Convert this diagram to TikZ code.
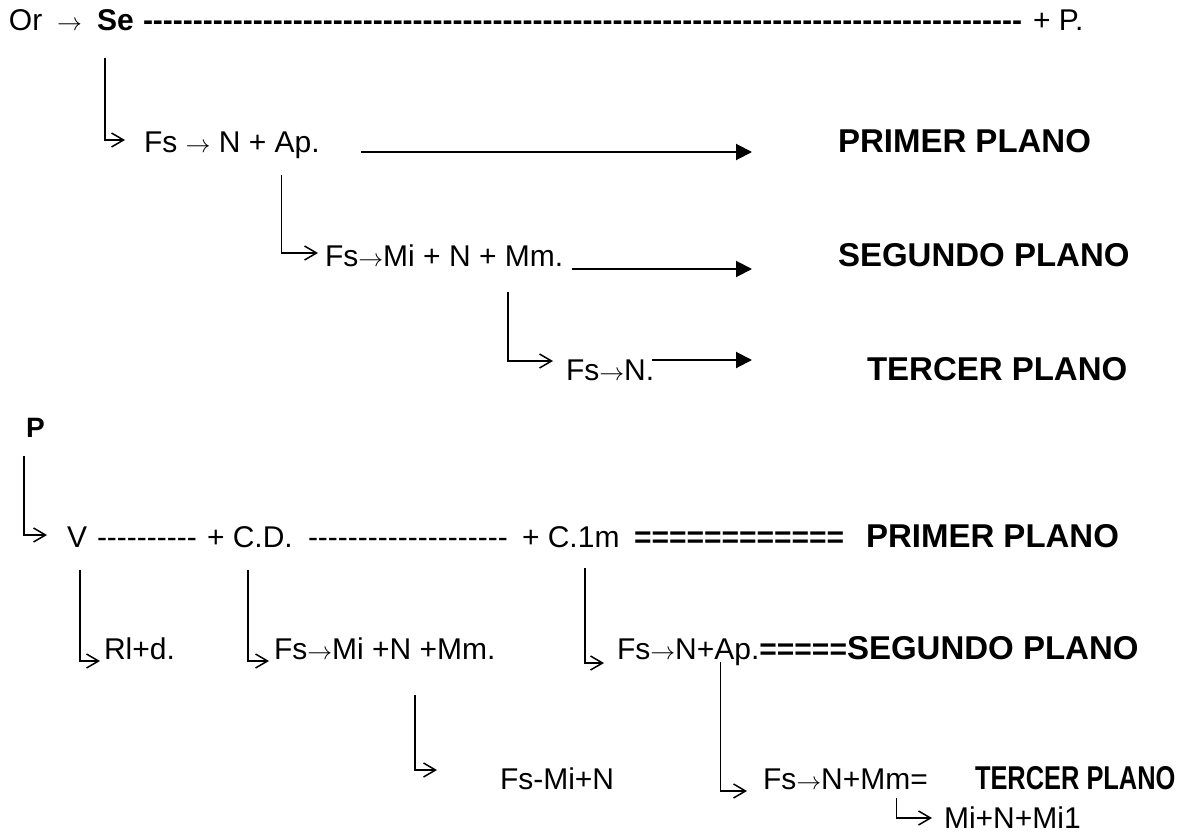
\documentclass[tikz,border=0pt]{standalone}
\usepackage{fontspec}
\setmainfont{Liberation Sans}[Ligatures=TeXOff]
\usetikzlibrary{arrows.meta,calc}
% repeat a character n times, without ligatures
\newcommand\rep[2]{\foreach \k in {1,...,#1}{#2\kern0pt}}
\newcommand\ar{\ensuremath{\rightarrow}}

\begin{document}
\begin{tikzpicture}[x=1pt,y=-1pt,
  txt/.style={inner sep=0pt,outer sep=0pt,anchor=base west,font=\fontsize{30}{36}\selectfont},
  btxt/.style={txt,font=\fontsize{30}{36}\selectfont\bfseries},
  lbl/.style={txt,font=\fontsize{33}{40}\selectfont\bfseries},
  hook/.style={line width=1.5pt,-{Straight Barb[length=12pt,width=14pt,line width=1.5pt]}},
  bigarrow/.style={line width=2pt,-{Triangle[length=16pt,width=16pt]}}]
\useasboundingbox (0,0) rectangle (1190,832);

% ---- subject: Or -> Se ... + P.
\node[txt]  (or)  at (9,31)    {Or};
\node[txt]  (to)  at (57,31)   {\ar};
\node[btxt] (se)  at (97,31)   {Se};
\node[btxt] (dse) at (143,31)  {\rep{88}{-}};
\node[txt]  (pp)  at (1033,31) {+ P.};

% first level
\node[txt] (fs1) at (144,152) {Fs \ar{} N +\ \null};
\node[txt] (ap1) at (fs1.base east) {Ap.};
\node[lbl] (pl1) at (838,152) {PRIMER PLANO};
\draw[hook] ($(se.base west)+(8,27)$) |- ($(fs1.base west)+(-19,-12)$);
\draw[bigarrow] ($(ap1.base east)+(41,0)$) -- ($(pl1.base west)+(-86,0)$);

% second level
\node[txt] (fs2) at (325,266) {Fs\ar{}Mi + N +\ \null};
\node[txt] (mm2) at (fs2.base east) {Mm.};
\node[lbl] (pl2) at (838,266) {SEGUNDO PLANO};
\draw[hook] ($(ap1.base west)+(7,23)$) |- ($(fs2.base west)+(-7,-13)$);
\draw[bigarrow] ($(mm2.base east)+(9,3)$) -- ($(pl2.base west)+(-86,3)$);

% third level
\node[txt] (fs3) at (566,380) {Fs\ar{}N.};
\node[lbl] (pl3) at (867,380) {TERCER PLANO};
\draw[hook] ($(mm2.base west)+(3,26)$) |- ($(fs3.base west)+(-13,-19)$);
\draw[bigarrow] ($(fs3.base east)+(-2,-20)$) -- ($(pl3.base west)+(-115,-20)$);

% ---- predicate
\node[txt,font=\fontsize{28}{34}\selectfont\bfseries] (p) at (26,437) {P};
\node[txt]  (v)   at (67,547)  {V};
\node[txt]  (d1)  at (97,547)  {\rep{10}{-}};
\node[txt]  (cd)  at (207,547) {+ C.D.};
\node[txt]  (d2)  at (308,547) {\rep{20}{-}};
\node[txt]  (cc)  at (522,547) {+ C.1m};
\node[btxt] (eq1) at (634,547) {\rep{12}{=}};
\node[lbl]  (pl4) at (866,547) {PRIMER PLANO};
\draw[hook] ($(p.base west)+(-2,19)$) |- ($(v.base west)+(-20,-12)$);

% second level of the predicate
\node[txt] (rl)  at (104,659) {Rl+d.};
\node[txt] (fs5) at (274,659) {Fs\ar{}Mi +N +};
\node[txt] (mm5) at (fs5.base east) {Mm.};
\node[txt] (fs6) at (617,659) {Fs\ar{}N+};
\node[txt] (ap6) at (fs6.base east) {Ap.};
\node[btxt] (eq2) at (ap6.base east) {\rep{5}{=}};
\node[lbl] (pl5) at (eq2.base east) {SEGUNDO PLANO};
\draw[hook] ($(v.base west)+(13,23)$) |- ($(rl.base west)+(-4,2)$);
\draw[hook] ($(cd.base west)+(41,23)$) |- ($(fs5.base west)+(-5,2)$);
\draw[hook] ($(cc.base west)+(63,21)$) |- ($(fs6.base west)+(-13,4)$);

% third level of the predicate
\node[txt] (fs7) at (500,789) {Fs-Mi+N};
\node[txt] (fs8) at (763,789) {Fs\ar{}N+};
\node[txt] (mm8) at (fs8.base east) {Mm=};
\node[lbl] (pl6) at (975,789) {\scalebox{0.77}[1]{TERCER PLANO}};
\draw[hook] ($(mm5.base west)+(-22,36)$) |- ($(fs7.base west)+(-63,-19)$);
\draw[hook] ($(ap6.base west)+(6,3)$) |- ($(fs8.base west)+(-16,2)$);

% fourth level
\node[txt] (mi) at (944,828) {Mi+N+Mi1};
\draw[hook] ($(mm8.base west)+(36,9)$) |- ($(mi.base west)+(-12,-10)$);
\end{tikzpicture}
\end{document}
